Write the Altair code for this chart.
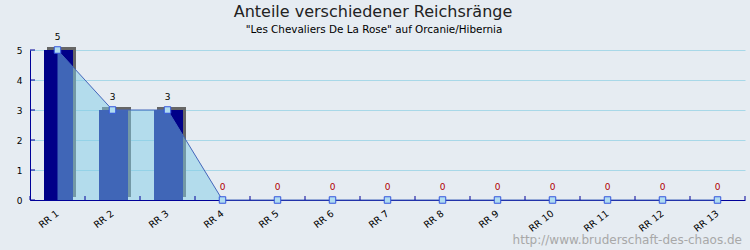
import altair as alt
import pandas as pd

title_text = "Anteile verschiedener Reichsränge"
subtitle_text = "\"Les Chevaliers De La Rose\" auf Orcanie/Hibernia"
watermark_text = "http://www.bruderschaft-des-chaos.de"

categories = ["RR 1", "RR 2", "RR 3", "RR 4", "RR 5", "RR 6", "RR 7",
              "RR 8", "RR 9", "RR 10", "RR 11", "RR 12", "RR 13"]
values = [5, 3, 3, 0, 0, 0, 0, 0, 0, 0, 0, 0, 0]
y_ticks = [0, 1, 2, 3, 4, 5]

df = pd.DataFrame({"cat": categories, "val": values})
df_pos = df[df["val"] > 0]
df_ticks = pd.DataFrame({"val": y_ticks})
df_last = df.tail(1)

AXIS_COL = "#000099"
FONT = "DejaVu Sans"

x_axis = alt.Axis(domainColor=AXIS_COL, domainWidth=1, ticks=False,
                  labelAngle=322, labelAlign="right", labelBaseline="top",
                  labelPadding=8, labelOffset=-3, labelFontSize=9.5, labelFont=FONT,
                  labelColor="#000000", grid=False, labelOverlap=False)
y_axis = alt.Axis(domainColor=AXIS_COL, domainWidth=1, ticks=False,
                  values=y_ticks, labelFontSize=9, labelFont=FONT,
                  labelColor="#000000", labelPadding=8, labelOverlap=False,
                  grid=True, gridColor="#A8D8E8", gridWidth=1)
x_scale = alt.Scale(paddingInner=0, paddingOuter=0)
y_scale = alt.Scale(domain=[0, 5], nice=False)


def X(**kw):
    return alt.X("cat:N", sort=categories, title=None, scale=x_scale, axis=x_axis, **kw)


def Y():
    return alt.Y("val:Q", title=None, scale=y_scale, axis=y_axis)


base = alt.Chart(df)

shadow = alt.Chart(df_pos).mark_bar(size=29, color="#666666", xOffset=4, yOffset=-3).encode(x=X(), y=Y())
bars = alt.Chart(df_pos).mark_bar(size=29, color="#000088", xOffset=1).encode(x=X(), y=Y())
area = base.mark_area(color="#80CCE6", opacity=0.5).encode(x=X(), y=Y())
line = base.mark_line(color="#4466BB", strokeWidth=1).encode(x=X(), y=Y())
points = base.mark_square(size=42, fill="#B0DCF0", stroke="#3355DD",
                          strokeWidth=1, opacity=1).encode(x=X(), y=Y())
labels = base.mark_text(dy=-13, fontSize=9, font=FONT).encode(
    x=X(), y=Y(), text="val:Q",
    color=alt.condition(alt.datum.val == 0, alt.value("#B00000"), alt.value("#000000")))

xticks = base.mark_rule(color=AXIS_COL, strokeWidth=1).encode(
    x=X(bandPosition=0), y=alt.value(146), y2=alt.value(150))
xtick_end = alt.Chart(df_last).mark_rule(color=AXIS_COL, strokeWidth=1).encode(
    x=X(bandPosition=1), y=alt.value(146), y2=alt.value(150))
yticks = alt.Chart(df_ticks).mark_rule(color=AXIS_COL, strokeWidth=1).encode(
    y=Y(), x=alt.value(0), x2=alt.value(5))

title = alt.Chart(pd.DataFrame({"t": [title_text]})).mark_text(
    font=FONT, fontSize=16, color="#222222", align="center", baseline="middle").encode(
    text="t:N", x=alt.value(343), y=alt.value(-38))
subtitle = alt.Chart(pd.DataFrame({"t": [subtitle_text]})).mark_text(
    font=FONT, fontSize=10.4, color="#000000", align="center", baseline="middle").encode(
    text="t:N", x=alt.value(344), y=alt.value(-20))
watermark = alt.Chart(pd.DataFrame({"t": [watermark_text]})).mark_text(
    font=FONT, fontSize=12, color="#A8A8A8", align="right", baseline="alphabetic").encode(
    text="t:N", x=alt.value(712), y=alt.value(194))

chart = alt.layer(shadow, bars, area, line, points, labels, xticks, xtick_end, yticks,
                  title, subtitle, watermark).properties(
    width=715, height=150,
    autosize=alt.AutoSizeParams(type="none"),
    padding={"left": 30, "top": 50, "right": 5, "bottom": 50},
    background="#E6ECF2",
).configure_view(stroke=None)

chart.save("out.html", embed_options={"renderer": "svg", "actions": False})
